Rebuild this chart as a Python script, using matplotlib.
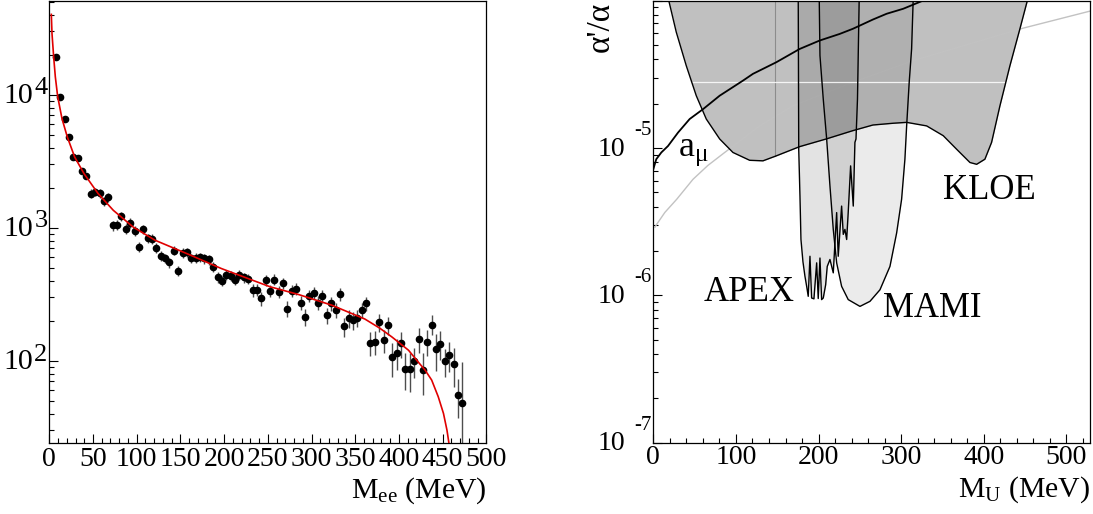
import matplotlib
matplotlib.use('Agg')
import matplotlib.pyplot as plt
from matplotlib.ticker import LogLocator, MultipleLocator, NullFormatter
import numpy as np

plt.rcParams['font.family'] = ['Liberation Serif', 'DejaVu Serif']
plt.rcParams['mathtext.fontset'] = 'custom'
plt.rcParams['mathtext.rm'] = 'Liberation Serif'
plt.rcParams['mathtext.it'] = 'Liberation Serif:italic'

# ---- e+e- invariant mass spectrum (5 MeV bins) ----
bin_width = 5.0
mee = np.arange(7.5, 475.0, bin_width)
counts = [19200, 9660, 6600, 4840, 3400, 3330, 2690, 2450, 1800, 1860,
          1810, 1580, 1690, 1040, 1050, 1220, 980, 1090, 950, 718,
          970, 834, 825, 710, 618, 590, 548, 674, 474, 647,
          658, 590, 597, 600, 587, 577, 511, 425, 399, 442,
          432, 408, 440, 423, 411, 340, 343, 294, 403, 334,
          408, 328, 381, 247, 336, 347, 274, 214, 309, 324,
          274, 308, 220, 270, 240, 317, 181, 208, 201, 210,
          240, 270, 137, 138, 195, 143, 185, 106, 115, 135,
          87, 86, 99, 145, 85, 139, 187, 122, 134, 99,
          110, 94, 55, 48]
errors = [400, 250, 200, 170, 130, 130, 120, 110, 140, 140,
          140, 130, 135, 90, 90, 95, 85, 90, 85, 60,
          75, 65, 65, 60, 52, 50, 48, 55, 42, 52,
          52, 50, 50, 50, 50, 48, 44, 38, 36, 38,
          37, 35, 37, 36, 35, 36, 36, 34, 38, 35,
          38, 34, 36, 33, 35, 35, 33, 31, 34, 34,
          33, 34, 31, 33, 32, 34, 30, 31, 31, 31,
          32, 33, 28, 28, 30, 28, 30, 30, 30, 30,
          27, 28, 25, 30, 30, 30, 32, 38, 32, 24,
          28, 30, 18, 50]

# fitted background shape
fit_m = [2.3, 3.1, 5.0, 6.9, 9.6, 14.5, 20.6, 29.0, 39.7, 55.7, 73.3, 96.1,
         121, 159, 197, 252.5, 285, 323, 361, 378, 392, 411, 422, 430,
         437.5, 445, 451, 455, 457.3]
fit_val = [40100, 28700, 19200, 13600, 9660, 6610, 4810, 3400, 2550, 1810,
           1350, 1010, 805, 632, 493, 360, 315, 262, 206, 176, 151, 120,
           98, 85, 71.6, 53.7, 40.2, 30.1, 23.9]

# ---- exclusion limits on alpha'/alpha vs M_U ----
kloe_m = [17.8, 27.8, 39.9, 52.0, 64.1, 80.3, 96.4, 116.6, 132.7, 148.8,
          177.1, 209.3, 241.6, 265.8, 290.4, 306.6, 330.8, 350.9, 367.1,
          383.2, 391.3, 401.3, 409.4, 419.5, 431.6, 443.7, 453.7]
kloe_val = [1.05e-4, 6.10e-5, 3.61e-5, 2.26e-5, 1.57e-5, 1.15e-5, 9.31e-6,
            8.24e-6, 8.17e-6, 8.83e-6, 1.02e-5, 1.15e-5, 1.31e-5, 1.43e-5,
            1.47e-5, 1.49e-5, 1.41e-5, 1.21e-5, 9.79e-6, 7.96e-6, 7.74e-6,
            8.38e-6, 1.09e-5, 1.93e-5, 3.61e-5, 6.43e-5, 1.05e-4]

mami_m = [200.8, 201.7, 205.7, 209.8, 213.8, 217.8, 221.9, 227.9, 235.9,
          250.1, 262.2, 274.3, 286.4, 294.5, 300.5, 304.5, 306.6, 309.7,
          312.6, 314.6]
mami_val = [1.05e-4, 4.23e-5, 2.14e-5, 1.15e-5, 5.51e-6, 2.80e-6, 1.66e-6,
            1.15e-6, 9.35e-7, 8.41e-7, 9.10e-7, 1.09e-6, 1.57e-6, 2.65e-6,
            4.48e-6, 8.38e-6, 1.41e-5, 2.79e-5, 4.69e-5, 1.05e-4]

apex_m = [175.4, 176.0, 177.5, 178.7, 181.1, 183.5, 185.6, 187.5, 189.6,
          191.6, 194.4, 197.7, 199.6, 201.7, 203.7, 205.7, 208.6, 210.5,
          213.8, 217.8, 221.9, 223.8, 227.9, 229.9, 231.9, 234.0, 235.9,
          238.8, 242.0, 244.0, 245.3, 247.1, 249.2]
apex_val = [1.05e-4, 9.79e-6, 4.71e-6, 2.39e-6, 1.69e-6, 1.35e-6, 1.15e-6,
            9.84e-7, 1.84e-6, 9.59e-7, 9.46e-7, 1.66e-6, 9.51e-7, 1.79e-6,
            9.35e-7, 9.59e-7, 1.18e-6, 1.57e-6, 1.75e-6, 1.42e-6, 3.64e-6,
            1.84e-6, 4.03e-6, 2.59e-6, 2.80e-6, 2.39e-6, 3.66e-6, 7.55e-6,
            4.03e-6, 1.09e-5, 1.15e-5, 2.14e-5, 1.05e-4]

amu_m = [0, 3.6, 9.7, 17.8, 29.9, 44.0, 60.1, 80.3, 108.5, 120.6, 148.8,
         177.1, 201.3, 225.5, 241.6, 265.8, 282.4, 302.5, 326.7, 340]
amu_val = [7.16e-6, 8.38e-6, 9.31e-6, 1.03e-5, 1.27e-5, 1.57e-5, 1.83e-5,
           2.26e-5, 2.86e-5, 3.18e-5, 3.81e-5, 4.69e-5, 5.35e-5, 5.93e-5,
           6.43e-5, 7.43e-5, 8.13e-5, 8.79e-5, 1.0e-4, 1.08e-4]

gray_m = [2.0, 4.1, 14.0, 28.3, 48.0, 66.0, 86.4, 128.7, 169.0, 241.6,
          314.6, 443.7, 528.4]
gray_val = [2.90e-6, 3.03e-6, 3.65e-6, 4.48e-6, 6.12e-6, 7.60e-6, 9.31e-6,
            1.41e-5, 1.93e-5, 2.79e-5, 3.91e-5, 6.41e-5, 8.47e-5]

W, H = 1093, 514
fig = plt.figure(figsize=(W / 100, H / 100), dpi=100)


def add_axes_px(left, top, right, bottom):
    return fig.add_axes([left / W, 1 - bottom / H, (right - left) / W, (bottom - top) / H])


def style_axes(ax, xpad):
    ax.tick_params(which='both', direction='in', top=False, right=False,
                   width=0.8, labelsize=20)
    ax.tick_params(axis='x', which='both', pad=xpad)
    ax.tick_params(which='major', length=6.5)
    ax.tick_params(which='minor', length=3.3)
    for s in ax.spines.values():
        s.set_linewidth(0.9)
    ax.yaxis.set_major_formatter(NullFormatter())
    ax.yaxis.set_minor_formatter(NullFormatter())
    ax.yaxis.set_major_locator(LogLocator(base=10))
    ax.yaxis.set_minor_locator(LogLocator(base=10, subs=np.arange(2, 10)))


def decade_labels(ax, exps, base_dx, base_dy, exp_dx, exp_dy, base_fs, exp_fs):
    # ROOT-like "10" with a raised exponent next to it
    for e in exps:
        ax.annotate('10', xy=(0, 10.0 ** e), xycoords=('axes fraction', 'data'),
                    xytext=(base_dx, base_dy), textcoords='offset points',
                    ha='right', va='center', fontsize=base_fs, annotation_clip=False)
        ax.annotate(str(e), xy=(0, 10.0 ** e), xycoords=('axes fraction', 'data'),
                    xytext=(exp_dx, exp_dy), textcoords='offset points',
                    ha='right', va='center', fontsize=exp_fs, annotation_clip=False)


# ---- left: spectrum with fit ----
ax1 = add_axes_px(49.3, 0.5, 486.3, 443)
ax1.set_yscale('log', nonpositive='clip')
ax1.errorbar(mee, counts, yerr=errors, fmt='o', color='black', ms=4.5,
             ecolor='0.3', elinewidth=1.0, capsize=0, zorder=2)
ax1.plot(fit_m, fit_val, color='#e00000', lw=1.2, zorder=3)
ax1.set_xlim(0, 500)
ax1.set_ylim(24.1, 5.1e4)
style_axes(ax1, 3.0)
ax1.xaxis.set_major_locator(MultipleLocator(50))
ax1.xaxis.set_minor_locator(MultipleLocator(10))
decade_labels(ax1, [2, 3, 4], -11.5, -1.2, -1.3, 4.5, 21.5, 19)
ax1.annotate(r'$\mathregular{M_{ee}}$ (MeV)', xy=(1, 0), xycoords='axes fraction',
             xytext=(0, -39.5), textcoords='offset points', ha='right',
             va='baseline', fontsize=21.5, annotation_clip=False)

# ---- right: limits ----
ax2 = add_axes_px(653.3, 0.5, 1090, 442.7)
ax2.set_yscale('log')
top = 1e-3
ax2.fill_between(kloe_m, kloe_val, top, color='#c0c0c0', lw=0, zorder=1)
ax2.plot(gray_m, gray_val, color='0.76', lw=1.0, zorder=2)
ax2.plot([146.8, 146.8], [8.8e-6, top], color='0.55', lw=0.8, zorder=2)
ax2.fill_between(mami_m, mami_val, top, color='black', alpha=0.08, lw=0, zorder=3)
ax2.fill_between(apex_m, apex_val, top, color='black', alpha=0.11, lw=0, zorder=3)
ax2.plot([44, 427.5], [2.81e-5, 2.81e-5], color='white', lw=0.9, alpha=0.85, zorder=4)
ax2.plot(kloe_m, kloe_val, color='black', lw=1.0, zorder=5)
ax2.plot(mami_m, mami_val, color='black', lw=1.0, zorder=5)
ax2.plot(apex_m, apex_val, color='black', lw=1.0, zorder=5)
ax2.plot(amu_m, amu_val, color='black', lw=1.3, zorder=6)
ax2.set_xlim(0, 528.5)
ax2.set_ylim(1e-7, 1e-4)
style_axes(ax2, 1.5)
ax2.xaxis.set_major_locator(MultipleLocator(100))
ax2.xaxis.set_minor_locator(MultipleLocator(20))
decade_labels(ax2, [-7, -6, -5], -20.4, -0.9, -1.0, 12.7, 20, 15)

ax2.text(350.9, 4.53e-6, 'KLOE', fontsize=25, ha='left', va='baseline', zorder=7)
ax2.text(278.3, 7.13e-7, 'MAMI', fontsize=25, ha='left', va='baseline', zorder=7)
ax2.text(60.5, 9.10e-7, 'APEX', fontsize=25, ha='left', va='baseline', zorder=7)
ax2.text(30.3, 8.8e-6, r'$\mathregular{a_{\mu}}$', fontsize=26, ha='left',
         va='baseline', zorder=7)
ax2.annotate(r'$\mathregular{M_{U}}$ (MeV)', xy=(1, 0), xycoords='axes fraction',
             xytext=(0, -39.0), textcoords='offset points', ha='right',
             va='baseline', fontsize=21.5, annotation_clip=False)
# y title sits at the top end of the axis
fig.text(601 / W, 1 - 1.5 / H, "\u03b1'/\u03b1", rotation=90, ha='center',
         va='top', fontsize=24)

fig.savefig('out.png', dpi=100)
